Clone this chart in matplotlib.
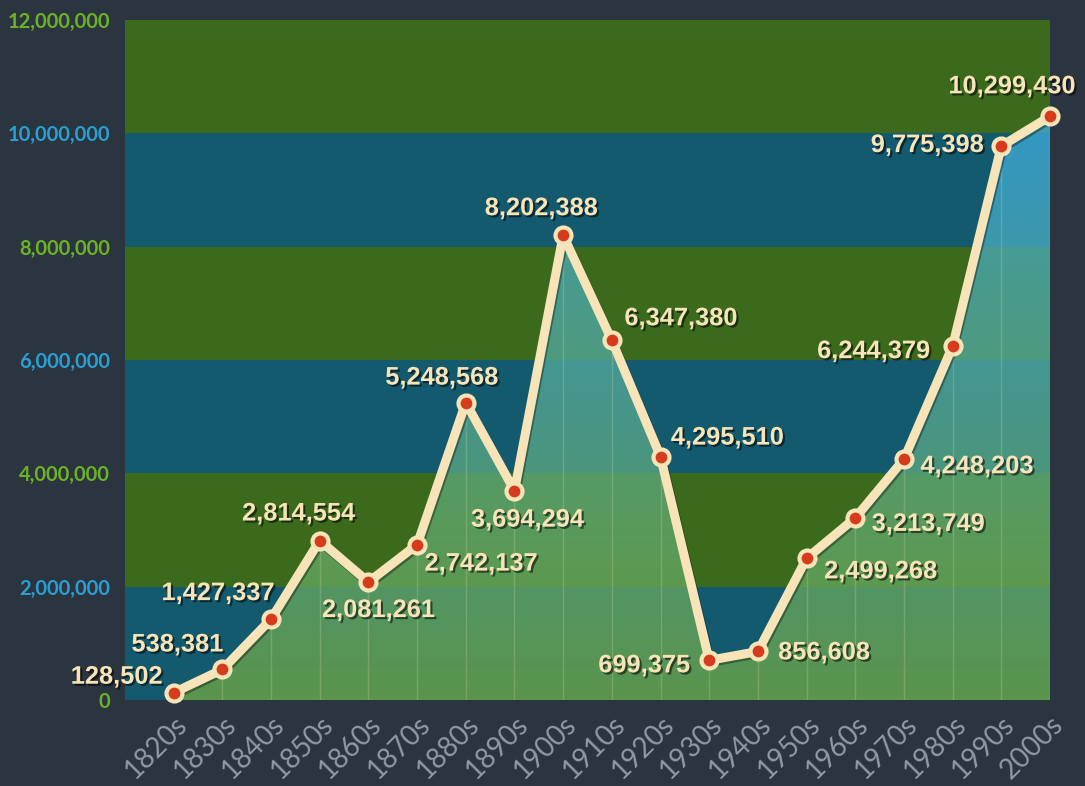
import numpy as np
import matplotlib
matplotlib.use("Agg")
import matplotlib.pyplot as plt
import matplotlib.patheffects as pe
from matplotlib.path import Path
from matplotlib.patches import PathPatch

# ---- data ----
decades = ["1820s", "1830s", "1840s", "1850s", "1860s", "1870s", "1880s", "1890s",
           "1900s", "1910s", "1920s", "1930s", "1940s", "1950s", "1960s", "1970s",
           "1980s", "1990s", "2000s"]
immigrants = [128502, 538381, 1427337, 2814554, 2081261, 2742137, 5248568, 3694294,
              8202388, 6347380, 4295510, 699375, 856608, 2499268, 3213749, 4248203,
              6244379, 9775398, 10299430]
ytick_values = [0, 2000000, 4000000, 6000000, 8000000, 10000000, 12000000]

# label placement offsets in pixels (style only)
label_offsets = [(-57, 16), (-45, 25), (-53, 26), (-21, 27), (10, -28), (64, -19),
                 (-24, 25), (13, -29), (-22, 27), (69, 22), (67, 19), (-65, -5),
                 (66, -1), (74, -13), (73, -6), (73, -7), (-79, -5), (-74, 1), (-38, 30)]

BG = "#2b3540"
GREEN_BAND = "#3b6a1d"
BLUE_BAND = "#145a6f"
CREAM = "#f7e4b8"
RED = "#d63b1c"
GREEN_TXT = "#6cb324"
BLUE_TXT = "#2a9fd4"

fig = plt.figure(figsize=(10.85, 7.86), dpi=100, facecolor=BG)
ax = fig.add_axes([125 / 1085, 1 - 700 / 786, (1050 - 125) / 1085, 680 / 786])
ax.set_facecolor(BG)

n = len(decades)
x = np.arange(n)
ax.set_xlim(-1, n - 1)
ax.set_ylim(0, 12000000)

# alternating bands
for i in range(len(ytick_values) - 1):
    col = BLUE_BAND if i % 2 == 0 else GREEN_BAND
    ax.axhspan(ytick_values[i], ytick_values[i + 1], color=col, lw=0, zorder=0)

# gradient fill under the line
verts = [(x[0], 0)] + list(zip(x, immigrants)) + [(x[-1], 0), (x[0], 0)]
codes = [Path.MOVETO] + [Path.LINETO] * (len(verts) - 2) + [Path.CLOSEPOLY]
poly = PathPatch(Path(verts, codes), facecolor="none", edgecolor="none")
ax.add_patch(poly)
bottom_c = np.array([0.45, 0.66, 0.26])
top_c = np.array([0.24, 0.68, 0.90])
t = np.linspace(0, 1, 256)[:, None]
grad = bottom_c[None, :] * (1 - t) + top_c[None, :] * t
grad = np.concatenate([grad, np.full((256, 1), 0.75)], axis=1)[:, None, :]
im = ax.imshow(grad, extent=[-1, n - 1, 0, 10500000], origin="lower",
               aspect="auto", zorder=1, interpolation="bilinear")
im.set_clip_path(poly)

# faint vertical grid lines inside the fill
ax.vlines(x, 0, immigrants, colors="#e8e0b0", alpha=0.22, lw=1, zorder=2)

# line + markers
ax.plot(x, immigrants, color=CREAM, lw=6.5, zorder=3, solid_joinstyle="round",
        solid_capstyle="round", clip_on=False,
        path_effects=[pe.SimpleLineShadow(offset=(1, -1.5), alpha=0.35), pe.Normal()])
ax.plot(x, immigrants, linestyle="none", marker="o", ms=11.5, mfc=RED, mec=CREAM,
        mew=3, zorder=4, clip_on=False)

# value labels
shadow = [pe.withSimplePatchShadow(offset=(1.5, -1.5), shadow_rgbFace="black", alpha=0.55)]
for xi, v, (dx, dy) in zip(x, immigrants, label_offsets):
    ax.annotate(f"{v:,}", (xi, v), xytext=(dx, dy), textcoords="offset pixels",
                ha="center", va="center", fontsize=18.3, fontweight="bold",
                color=CREAM, family="Liberation Sans", zorder=5,
                annotation_clip=False, path_effects=shadow)

# ticks
ax.set_yticks(ytick_values)
ax.set_yticklabels([f"{v:,}" for v in ytick_values], fontsize=14.5, fontweight="bold",
                   family="Lato")
for i, lab in enumerate(ax.get_yticklabels()):
    lab.set_color(GREEN_TXT if i % 2 == 0 else BLUE_TXT)
ax.set_xticks(x)
ax.set_xticklabels(decades, rotation=45, ha="right", rotation_mode="anchor",
                   fontsize=20, color="#8f9aa4", family="Lato", fontweight="normal")
ax.tick_params(axis="both", length=0)
ax.tick_params(axis="y", pad=11)
ax.tick_params(axis="x", pad=8)
for s in ax.spines.values():
    s.set_visible(False)

fig.savefig("out.png", dpi=100, facecolor=BG)
